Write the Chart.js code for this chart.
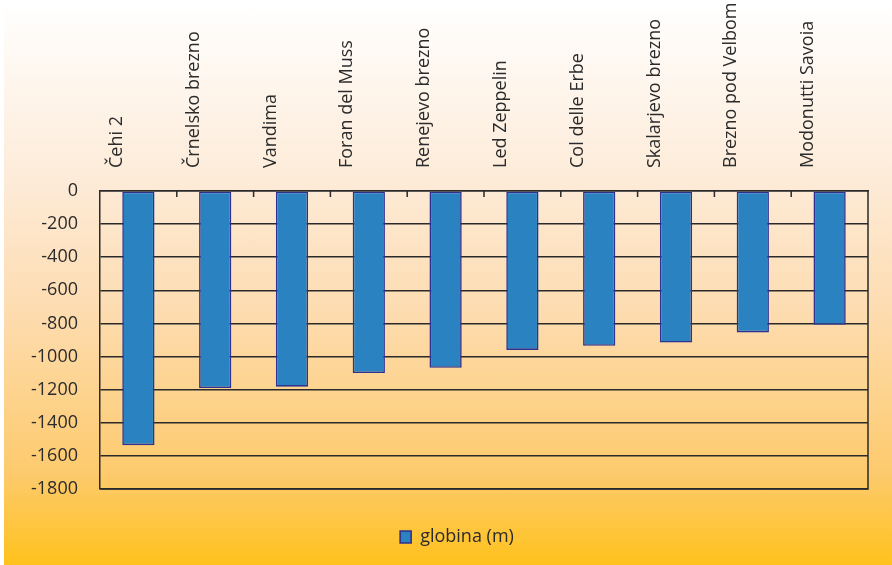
<!DOCTYPE html>
<html>
<head>
  <meta charset="UTF-8">
  <title>Globina jam</title>
  <script src="https://cdn.jsdelivr.net/npm/chart.js"></script>
  <style>
    body {
      margin: 0;
      background-color: #ffffff;
    }
    #okvir {
      position: absolute;
      left: 4px;
      top: 0;
      width: 888px;
      height: 565px;
      background: linear-gradient(to bottom, #ffffff 0%, #fdebd8 32%, #fddcb0 55%, #fdca6c 84%, #ffc21c 100%);
    }
  </style>
</head>
<body>

  <div id="okvir">
    <canvas id="barChart"></canvas>
  </div>

  <script>
    const jame = ['Čehi 2', 'Črnelsko brezno', 'Vandima', 'Foran del Muss', 'Renejevo brezno',
                  'Led Zeppelin', 'Col delle Erbe', 'Skalarjevo brezno', 'Brezno pod Velbom', 'Modonutti Savoia'];
    const globina = [-1535, -1190, -1182, -1100, -1068, -960, -935, -915, -854, -808];
    const yMin = -1800;
    const yMax = 0;
    const yKorak = 200;

    const crta = '#2a2a2a';
    const barvaBesedila = '#2b2b2b';

    // okvir risalne ploskve in kratke oznake med kategorijami na zgornji osi
    const okvirPlugin = {
      id: 'okvir',
      afterLayout(chart) {
        // legenda malo desno od sredine platna
        chart.legend.left += 21;
        chart.legend.right += 21;
      },
      beforeDatasetsDraw(chart) {
        const { ctx, chartArea: a, scales: { x } } = chart;
        ctx.save();
        ctx.strokeStyle = crta;
        ctx.lineWidth = 1.5;
        ctx.beginPath();
        ctx.moveTo(a.left, a.bottom);
        ctx.lineTo(a.right, a.bottom);
        ctx.lineTo(a.right, a.top);
        for (let i = 1; i < jame.length; i++) {
          const px = (x.getPixelForValue(i - 1) + x.getPixelForValue(i)) / 2;
          ctx.moveTo(px, a.top);
          ctx.lineTo(px, a.top + 6);
        }
        ctx.stroke();
        ctx.restore();
      }
    };

    const ctx = document.getElementById('barChart').getContext('2d');

    const chart = new Chart(ctx, {
      type: 'bar',
      data: {
        labels: jame,
        datasets: [{
          label: 'globina (m)',
          data: globina,
          backgroundColor: '#2a82c0',
          borderColor: '#2e3192',
          borderWidth: 1.6,
          borderSkipped: false,
          categoryPercentage: 1,
          barPercentage: 0.42
        }]
      },
      options: {
        responsive: true,
        maintainAspectRatio: false,
        animation: false,
        layout: {
          padding: { left: 0, right: 24, top: 0, bottom: 9 }
        },
        scales: {
          x: {
            position: 'top',
            grid: { display: false },
            border: { display: true, color: crta, width: 1.5 },
            ticks: {
              minRotation: 90,
              maxRotation: 90,
              padding: 15,
              color: barvaBesedila,
              font: { family: 'Open Sans', size: 18 }
            },
            afterFit: s => { s.height = 191; }
          },
          y: {
            min: yMin,
            max: yMax,
            grid: { color: crta, lineWidth: 1.5, drawTicks: false },
            border: { display: true, color: crta, width: 1.5 },
            ticks: {
              stepSize: yKorak,
              padding: 22,
              color: barvaBesedila,
              font: { family: 'Open Sans', size: 18 },
              callback: v => v
            },
            afterFit: s => { s.width = 96; }
          }
        },
        plugins: {
          legend: {
            position: 'bottom',
            labels: {
              boxWidth: 11,
              boxHeight: 12,
              padding: 39,
              color: barvaBesedila,
              font: { family: 'Open Sans', size: 18 }
            }
          },
          tooltip: { enabled: false }
        }
      },
      plugins: [okvirPlugin]
    });
  </script>

</body>
</html>
